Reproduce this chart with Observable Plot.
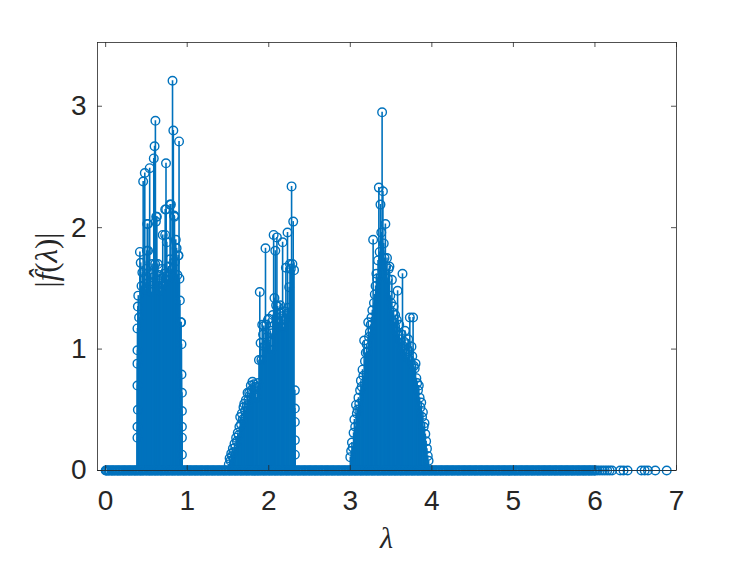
<!DOCTYPE html>
<html>
<head>
<meta charset="utf-8">
<script src="https://cdn.jsdelivr.net/npm/d3@7"></script>
<script src="https://cdn.jsdelivr.net/npm/@observablehq/plot@0.6"></script>
<style>
  html, body { margin: 0; padding: 0; background: #fff; }
  svg { display: block; }
</style>
</head>
<body>
<div id="chart"></div>
<script>
// ---- Data ----
const xTicks = [0, 1, 2, 3, 4, 5, 6, 7];
const yTicks = [0, 1, 2, 3];

// first group of eigenvalues
const lam1 = [0.39,0.40,0.41,0.42,0.43,0.44,0.45,0.46,0.47,0.48,0.49,0.50,0.51,0.52,0.53,0.54,0.55,0.56,0.57,0.58,0.59,0.60,0.61,0.62,0.63,0.64,0.65,0.66,0.67,0.68,0.69,0.70,0.71,0.72,0.73,0.74,0.75,0.76,0.77,0.78,0.79,0.80,0.81,0.82,0.83,0.84,0.85,0.86,0.87,0.88,0.89,0.90,0.905,0.91,0.92,0.93,
  0.39,0.39,0.39,0.39,0.39,0.395,0.395,0.935,0.935,0.935,0.935,0.935,0.93,0.925,0.505,0.607,0.628,0.616,0.518,0.742,0.79,0.844,0.893,0.73];
const amp1 = [1.17,1.44,1.26,1.80,1.71,1.52,1.63,2.38,1.58,2.45,1.49,1.66,2.03,1.81,1.55,2.49,1.62,1.47,1.70,1.59,2.57,2.67,2.88,2.09,1.52,1.70,1.56,1.61,1.48,1.58,1.66,1.94,1.53,1.62,2.15,2.53,1.88,1.57,1.68,1.60,1.74,2.19,1.65,3.21,2.80,2.10,1.72,1.90,1.83,1.61,1.77,2.71,1.58,1.40,1.22,1.04,
  0.27,0.36,0.70,0.88,0.99,0.50,1.35,0.13,0.27,0.36,0.49,0.64,0.79,1.22,1.81,1.70,2.09,2.05,2.03,2.15,2.19,2.09,1.77,1.94];

// second group
const lam2 = [1.51,1.52,1.53,1.54,1.55,1.56,1.57,1.58,1.59,1.60,1.61,1.62,1.63,1.64,1.65,1.66,1.67,1.68,1.69,1.70,1.71,1.72,1.73,1.74,1.75,1.76,1.77,1.78,1.79,1.80,1.81,1.82,1.83,1.84,1.85,1.86,1.87,1.88,1.89,1.90,1.91,1.92,1.93,1.94,1.95,1.96,1.97,1.98,1.99,2.00,2.01,2.02,2.03,2.04,2.05,2.06,2.07,2.08,2.09,2.10,2.11,2.12,2.13,2.14,2.15,2.16,2.17,2.18,2.19,2.20,2.21,2.22,2.23,2.24,2.25,2.26,2.27,2.28,2.29,2.30,2.31,2.32,
  2.32,2.32,2.32,2.32];
const amp2 = [0.05,0.10,0.08,0.14,0.12,0.18,0.15,0.22,0.19,0.27,0.24,0.31,0.29,0.36,0.44,0.38,0.47,0.42,0.52,0.55,0.49,0.58,0.53,0.64,0.58,0.64,0.62,0.70,0.66,0.73,0.68,0.71,0.63,0.69,0.60,0.68,0.72,0.91,1.47,1.05,0.91,1.20,1.12,1.19,1.02,1.83,1.20,1.10,1.24,1.25,1.06,1.15,0.99,1.13,1.28,1.94,1.42,1.81,1.36,1.92,1.35,1.22,1.30,1.36,1.18,1.27,1.88,1.18,1.31,1.24,1.67,1.29,1.96,1.34,1.51,1.70,1.66,2.34,1.70,2.05,1.65,0.66,
  0.51,0.40,0.25,0.13];

// third group
const lam3 = [3.00,3.01,3.02,3.03,3.04,3.05,3.06,3.07,3.08,3.09,3.10,3.11,3.12,3.13,3.14,3.15,3.16,3.17,3.18,3.19,3.20,3.21,3.22,3.23,3.24,3.25,3.26,3.27,3.28,3.29,3.30,3.31,3.32,3.33,3.34,3.35,3.36,3.37,3.38,3.39,3.40,3.41,3.42,3.43,3.44,3.45,3.46,3.47,3.48,3.49,3.50,3.51,3.52,3.53,3.54,3.55,3.56,3.57,3.58,3.59,3.60,3.61,3.62,3.63,3.64,3.65,3.66,3.67,3.68,3.69,3.70,3.71,3.72,3.73,3.74,3.75,3.76,3.77,3.78,3.79,3.80,3.81,3.82,3.83,3.84,3.85,3.86,3.87,3.88,3.89,3.90,3.91,3.92,3.93,3.94,3.95,3.96];
const amp3 = [0.11,0.16,0.23,0.19,0.31,0.42,0.36,0.54,0.47,0.50,0.60,0.55,0.66,0.74,0.69,0.83,0.78,1.07,0.90,0.97,1.04,0.98,1.22,1.10,1.14,1.20,1.26,1.32,1.90,1.38,1.45,1.52,1.62,1.58,1.73,2.33,1.80,2.19,1.96,2.95,2.30,1.87,1.75,2.03,1.68,1.75,1.58,1.66,1.68,1.44,1.38,1.57,1.30,1.35,1.22,1.28,1.15,1.24,1.48,1.12,1.20,1.08,1.02,1.12,1.62,1.00,1.06,1.15,0.96,1.04,0.93,1.08,0.98,1.26,0.90,1.02,0.94,1.26,0.86,0.84,0.88,0.76,0.72,0.66,0.70,0.60,0.52,0.56,0.44,0.48,0.36,0.39,0.30,0.24,0.18,0.12,0.08];

// eigenvalues where the transform is (numerically) zero
const lam0 = [0.00,0.03,0.07,0.10,0.14,0.17,0.21,0.24,0.28,0.31,0.35,0.38,0.42,0.45,0.49,0.53,0.56,0.60,0.63,0.67,0.70,0.74,0.77,0.81,0.84,0.88,0.91,0.95,0.98,1.02,1.05,1.09,1.12,1.16,1.19,1.23,1.26,1.30,1.33,1.37,1.40,1.44,1.47,1.51,1.54,1.58,1.61,1.65,1.68,1.72,1.75,1.79,1.82,1.86,1.89,1.93,1.96,2.00,2.03,2.07,2.10,2.14,2.17,2.21,2.24,2.28,2.31,2.35,2.38,2.42,2.45,2.49,2.52,2.56,2.59,2.63,2.66,2.70,2.73,2.77,2.80,2.84,2.87,2.91,2.94,2.98,3.01,3.05,3.08,3.12,3.15,3.19,3.22,3.26,3.29,3.33,3.36,3.40,3.43,3.47,3.50,3.54,3.57,3.61,3.64,3.68,3.71,3.75,3.78,3.82,3.85,3.89,3.92,3.96,3.99,4.03,4.06,4.10,4.13,4.17,4.20,4.24,4.27,4.31,4.34,4.38,4.41,4.45,4.48,4.52,4.55,4.59,4.62,4.66,4.69,4.73,4.76,4.80,4.83,4.87,4.90,4.94,4.97,5.01,5.04,5.08,5.11,5.15,5.18,5.22,5.25,5.29,5.32,5.36,5.39,5.43,5.46,5.50,5.53,5.57,5.60,5.64,5.67,5.71,5.74,5.78,5.81,5.85,5.88,5.92,5.95,5.99,6.03,6.06,6.09,6.12,6.15,6.18,6.21,6.31,6.35,6.40,6.57,6.61,6.65,6.74,6.88];
const lam0b = [0.015,0.05,0.085,0.12,0.155,0.19,0.225,0.26,0.295,0.33,0.365,0.40,0.435,0.47,0.51,0.545,0.58,0.615,0.65,0.685,0.72,0.755,0.79,0.825,0.86,0.895,0.93,0.965,1.00,1.035,1.07,1.105,1.14,1.175,1.21,1.245,1.28,1.315,1.35,1.385,1.42,1.455,1.49,1.525,1.56,1.595,1.63,1.665,1.70,1.735,1.77,1.805,1.84,1.875,1.91,1.945,1.98,2.015,2.05,2.085,2.12,2.155,2.19,2.225,2.26,2.295,2.33,2.365,2.40,2.435,2.47,2.505,2.54,2.575,2.61,2.645,2.68,2.715,2.75,2.785,2.82,2.855,2.89,2.925,2.96,2.995,3.03,3.065,3.10,3.135,3.17,3.205,3.24,3.275,3.31,3.345,3.38,3.415,3.45,3.485,3.52,3.555,3.59,3.625,3.66,3.695,3.73,3.765,3.80,3.835,3.87,3.905,3.94,3.975,4.01,4.045,4.08,4.115,4.15,4.185,4.22,4.255,4.29,4.325,4.36,4.395,4.43,4.465,4.50,4.535,4.57,4.605,4.64,4.675,4.71,4.745,4.78,4.815,4.85,4.885,4.92,4.955,4.99,5.025,5.06,5.095,5.13,5.165,5.20,5.235,5.27,5.305,5.34,5.375,5.41,5.445,5.48,5.515,5.55,5.585,5.62,5.655,5.69,5.725,5.76,5.795,5.83,5.865,5.90,5.935,5.97,6.005];
const lam0c = [0.008,0.04,0.075,0.11,0.145,0.18,0.215,0.25,0.285,0.32,0.355,0.39,0.425,0.46,0.50,0.535,0.57,0.605,0.64,0.675,0.71,0.745,0.78,0.815,0.85,0.885,0.92,0.955,0.99,1.025,1.06,1.095,1.13,1.165,1.20,1.235,1.27,1.305,1.34,1.375,1.41,1.445,1.48,1.515,1.55,1.585,1.62,1.655,1.69,1.725,1.76,1.795,1.83,1.865,1.90,1.935,1.97,2.005,2.04,2.075,2.11,2.145,2.18,2.215,2.25,2.285,2.32,2.355,2.39,2.425,2.46,2.495,2.53,2.565,2.60,2.635,2.67,2.705,2.74,2.775,2.81,2.845,2.88,2.915,2.95,2.985,3.02,3.055,3.09,3.125,3.16,3.195,3.23,3.265,3.30,3.335,3.37,3.405,3.44,3.475,3.51,3.545,3.58,3.615,3.65,3.685,3.72,3.755,3.79,3.825,3.86,3.895,3.93,3.965,4.00,4.035,4.07,4.105,4.14,4.175,4.21,4.245,4.28,4.315,4.35,4.385,4.42,4.455,4.49,4.525,4.56,4.595,4.63,4.665,4.70,4.735,4.77,4.805,4.84,4.875,4.91,4.945,4.98,5.015,5.05,5.085,5.12,5.155,5.19,5.225,5.26,5.295,5.33,5.365,5.40,5.435,5.47,5.505,5.54,5.575,5.61,5.645,5.68,5.715,5.75,5.785,5.82,5.855,5.89,5.925,5.96,5.995];

// ---- Build table ----
const pts = [];
function addGroup(l, a) { l.forEach((x, i) => pts.push({lam: x, amp: a[i]})); }
addGroup(lam1, amp1);
addGroup(lam2, amp2);
addGroup(lam3, amp3);
[lam0, lam0b, lam0c].forEach(arr => arr.forEach(x => pts.push({lam: x, amp: 0})));

const blue = "#0072BD";
const axisColor = "#262626";
const W = 747, H = 561, mL = 97, mR = 71, mT = 42, mB = 91;
const fw = W - mL - mR, fh = H - mT - mB, tl = 5;

const chart = Plot.plot({
  width: W, height: H,
  marginLeft: mL, marginRight: mR, marginTop: mT, marginBottom: mB,
  style: {fontFamily: "'Liberation Sans', Arial, Helvetica, sans-serif", background: "white", overflow: "visible"},
  x: {domain: [-0.1, 7], axis: null},
  y: {domain: [0, 3.525], axis: null},
  marks: [
    Plot.ruleY([0], {stroke: blue, strokeWidth: 1.2}),
    Plot.ruleX(pts.filter(d => d.amp > 0), {x: "lam", y1: 0, y2: "amp", stroke: blue, strokeWidth: 1.6}),
    Plot.dot(pts, {x: "lam", y: "amp", r: 4.3, stroke: blue, strokeWidth: 1.4, fill: "none"}),
    Plot.frame({stroke: axisColor, strokeWidth: 0.8}),
    // inward ticks (bottom/top, left/right)
    Plot.ruleX(xTicks, {x: d => d, insetTop: fh - tl, stroke: axisColor, strokeWidth: 0.8}),
    Plot.ruleX(xTicks, {x: d => d, insetBottom: fh - tl, stroke: axisColor, strokeWidth: 0.8}),
    Plot.ruleY(yTicks, {y: d => d, insetRight: fw - tl, stroke: axisColor, strokeWidth: 0.8}),
    Plot.ruleY(yTicks, {y: d => d, insetLeft: fw - tl, stroke: axisColor, strokeWidth: 0.8}),
    // tick labels
    Plot.text(xTicks, {x: d => d, frameAnchor: "bottom", lineAnchor: "top", dy: 20, text: d => String(d), fontSize: 28, fill: axisColor}),
    Plot.text(yTicks, {y: d => d, frameAnchor: "left", textAnchor: "end", dx: -11, text: d => String(d), fontSize: 28, fill: axisColor})
  ]
});

const svg = d3.select(chart);
// x label (lambda)
svg.append("text")
  .attr("x", mL + fw / 2).attr("y", 548)
  .attr("text-anchor", "middle")
  .style("font-family", "'Liberation Serif', 'DejaVu Serif', serif")
  .style("font-style", "italic")
  .style("font-size", "30px")
  .attr("fill", axisColor)
  .text("λ");
// y label |f̂(λ)|
const yl = svg.append("text")
  .attr("transform", "translate(57," + (mT + fh / 2 + 4) + ") rotate(-90)")
  .attr("text-anchor", "middle")
  .style("font-family", "'Liberation Serif', 'DejaVu Serif', serif")
  .style("font-size", "31px")
  .attr("fill", axisColor);
yl.append("tspan").text("|");
yl.append("tspan").style("font-style", "italic").text("f\u0302");
yl.append("tspan").text("(");
yl.append("tspan").style("font-style", "italic").text("λ");
yl.append("tspan").text(")|");

document.getElementById("chart").appendChild(chart);
</script>
</body>
</html>
